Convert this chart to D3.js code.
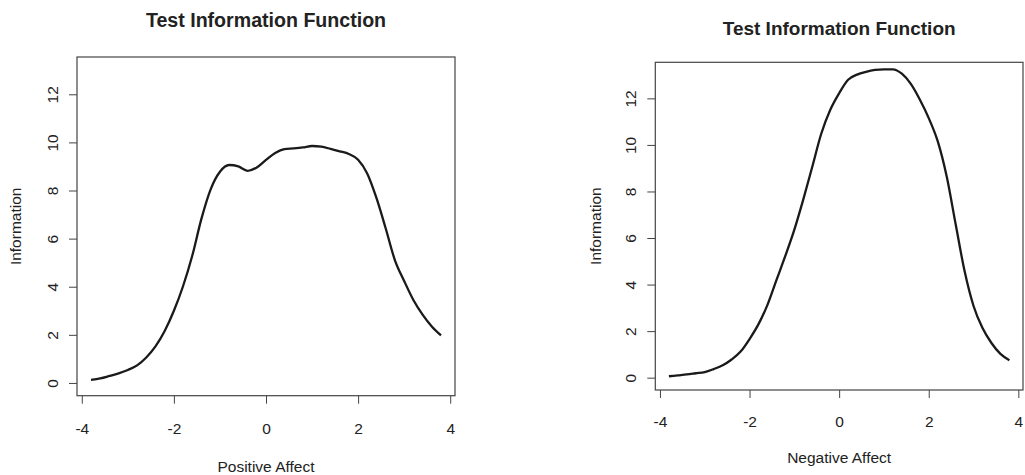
<!DOCTYPE html>
<html>
<head>
<meta charset="utf-8">
<script src="https://cdn.jsdelivr.net/npm/d3@7"></script>
<style>
  html, body { margin: 0; padding: 0; background: #fff; }
  svg { display: block; font-family: "Liberation Sans", Arial, sans-serif; }
</style>
</head>
<body>
<svg id="chart" width="1025" height="475"></svg>
<script>
// theta grid shared by both curves
const theta = [
  -3.8, -3.6, -3.4, -3.2, -3.0, -2.8, -2.6, -2.4, -2.2, -2.0,
  -1.8, -1.6, -1.4, -1.2, -1.0, -0.8, -0.6, -0.4, -0.2, 0.0,
  0.2, 0.4, 0.6, 0.8, 1.0, 1.2, 1.4, 1.6, 1.8, 2.0,
  2.2, 2.4, 2.6, 2.8, 3.0, 3.2, 3.4, 3.6, 3.8
];

const positiveInfo = [
  0.13, 0.19, 0.29, 0.40, 0.54, 0.73, 1.06, 1.52, 2.16, 3.00,
  4.03, 5.30, 6.84, 8.06, 8.78, 9.06, 9.00, 8.82, 8.96, 9.27,
  9.56, 9.72, 9.75, 9.79, 9.85, 9.82, 9.73, 9.63, 9.52, 9.28,
  8.70, 7.68, 6.42, 5.10, 4.24, 3.45, 2.84, 2.35, 1.98
];

const negativeInfo = [
  0.06, 0.10, 0.14, 0.19, 0.24, 0.37, 0.53, 0.78, 1.12, 1.66,
  2.30, 3.13, 4.19, 5.24, 6.36, 7.66, 9.06, 10.48, 11.50, 12.22,
  12.80, 13.02, 13.14, 13.22, 13.25, 13.25, 13.06, 12.62, 11.95, 11.15,
  10.16, 8.65, 6.60, 4.58, 3.08, 2.13, 1.49, 1.02, 0.75
];

const xTicks = [-4, -2, 0, 2, 4];
const yTicks = [0, 2, 4, 6, 8, 10, 12];

const chartTitle = 'Test Information Function';
const yLabel = 'Information';

// R-style limits: data range padded by 4%
const xDomain = [-4.104, 4.104];
const yDomain = [-0.53, 13.55];

const panels = [
  { values: positiveInfo, xLabel: 'Positive Affect',
    left: 77, right: 455, top: 57, bottom: 395.7, titleY: 26.8, titleSize: 19.6,
    tickGap: 18.7, xTickY: 38, xLabelY: 471.5, yLabelX: 20.5 },
  { values: negativeInfo, xLabel: 'Negative Affect',
    left: 655.3, right: 1023, top: 62.3, bottom: 390, titleY: 35, titleSize: 19,
    tickGap: 19.6, xTickY: 37, xLabelY: 462.5, yLabelX: 600.5 }
];

const svg = d3.select('#chart');
const textColor = '#222';

panels.forEach(p => {
  const x = d3.scaleLinear().domain(xDomain).range([p.left, p.right]);
  const y = d3.scaleLinear().domain(yDomain).range([p.bottom, p.top]);
  const g = svg.append('g');

  // title
  g.append('text')
    .attr('x', (p.left + p.right) / 2)
    .attr('y', p.titleY)
    .attr('text-anchor', 'middle')
    .style('font-size', p.titleSize + 'px')
    .style('font-weight', 'bold')
    .attr('fill', textColor)
    .text(chartTitle);

  // x axis
  const xAxis = g.append('g')
    .attr('transform', `translate(0,${p.bottom})`)
    .call(d3.axisBottom(x).tickValues(xTicks).tickSize(8).tickSizeOuter(0).tickFormat(d3.format('d')));
  xAxis.select('.domain').remove();
  xAxis.selectAll('.tick line').attr('stroke', '#444');
  xAxis.selectAll('.tick text')
    .attr('y', p.xTickY).attr('dy', 0)
    .attr('fill', textColor)
    .style('font-size', '15.5px')
    .text(d => d < 0 ? '-' + Math.abs(d) : d);

  // y axis, labels turned like R's default las=0
  const yAxis = g.append('g')
    .attr('transform', `translate(${p.left},0)`)
    .call(d3.axisLeft(y).tickValues(yTicks).tickSize(8).tickSizeOuter(0));
  yAxis.select('.domain').remove();
  yAxis.selectAll('.tick line').attr('stroke', '#444');
  yAxis.selectAll('.tick text')
    .attr('transform', 'rotate(-90)')
    .attr('x', 0).attr('y', -p.tickGap).attr('dy', 0)
    .attr('text-anchor', 'middle')
    .attr('fill', textColor)
    .style('font-size', '15.5px');

  // axis titles
  g.append('text')
    .attr('x', (p.left + p.right) / 2)
    .attr('y', p.xLabelY)
    .attr('text-anchor', 'middle')
    .style('font-size', '15.5px')
    .attr('fill', textColor)
    .text(p.xLabel);

  g.append('text')
    .attr('transform', `translate(${p.yLabelX},${(p.top + p.bottom) / 2}) rotate(-90)`)
    .attr('text-anchor', 'middle')
    .style('font-size', '15.5px')
    .attr('fill', textColor)
    .text(yLabel);

  // box
  g.append('rect')
    .attr('x', p.left).attr('y', p.top)
    .attr('width', p.right - p.left).attr('height', p.bottom - p.top)
    .attr('fill', 'none')
    .attr('stroke', '#444')
    .attr('stroke-width', 1.2);

  // curve
  const line = d3.line()
    .x((d, i) => x(theta[i]))
    .y(d => y(d))
    .curve(d3.curveMonotoneX);

  g.append('path')
    .datum(p.values)
    .attr('d', line)
    .attr('fill', 'none')
    .attr('stroke', '#1a1a1a')
    .attr('stroke-width', 2.3)
    .attr('stroke-linejoin', 'round');
});
</script>
</body>
</html>
